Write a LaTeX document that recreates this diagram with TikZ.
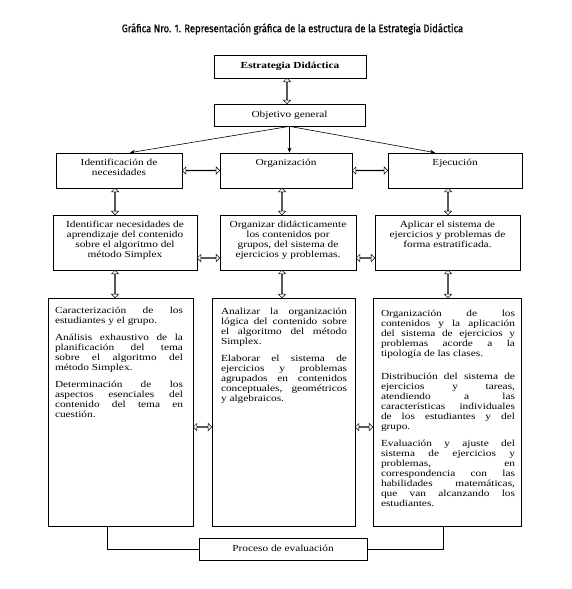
\documentclass[tikz,border=0pt]{standalone}
\usepackage{fontspec}
\setmainfont{Liberation Serif}[FakeStretch=1.22]
\newfontfamily\titlefont{Fira Sans}[FakeStretch=0.86,FakeBold=0.6]
\usetikzlibrary{shapes.arrows,calc,arrows.meta}
\newcommand{\boxtext}[4]{\parbox[c][#2][t]{#1}{\vspace*{#3}#4}}
\newcommand{\jtext}[5]{\parbox[c][#2][t]{#1}{\setlength{\parindent}{0pt}\setlength{\parskip}{#3}\vspace*{#4}#5}}
\newcommand{\dbl}[2]{\path let \p1=#1, \p2=#2, \n1={veclen(\x2-\x1,\y2-\y1)}, \n2={atan2(\y2-\y1,\x2-\x1)} in node[darr, minimum height=\n1, rotate=\n2] at ($(\p1)!0.5!(\p2)$) {};}
\begin{document}
\begin{tikzpicture}[x=1pt,y=-1pt,font=\fontsize{9.3}{10}\selectfont,
  box/.style={draw, line width=0.7pt, inner sep=0pt, rectangle},
  darr/.style={shape=double arrow, draw, fill=white, line width=0.5pt, inner sep=0pt, minimum width=7pt, double arrow head extend=2pt, double arrow head indent=0pt},
  arr/.style={-{Stealth[length=5pt,width=4pt]}, line width=0.6pt}]
\useasboundingbox (0,0) rectangle (571,589);
\node (title) at (292.5,29) {\titlefont\fontsize{11}{13}\selectfont Gráfica Nro. 1. Representación gráfica de la estructura de la Estrategia Didáctica};
\node[box, minimum width=152pt, minimum height=23pt] (est) at (290,66.5) {\raisebox{3pt}{\textbf{Estrategia Didáctica}}};
\node[box, minimum width=151pt, minimum height=22pt] (obj) at (289.5,115) {\raisebox{2pt}{Objetivo general}};
\node[box] (idn) at (119,170.5) {\boxtext{126pt}{35pt}{6pt}{\centering Identificación de\\ necesidades\par}};
\node[box] (org2) at (286,170.5) {\boxtext{132pt}{35pt}{6pt}{\centering Organización\par}};
\node[box] (eje2) at (455,170.5) {\boxtext{134pt}{35pt}{6pt}{\centering Ejecución\par}};
\node[box] (r3a) at (125,242.5) {\boxtext{144pt}{55pt}{6pt}{\centering Identificar necesidades de\\ aprendizaje del contenido\\ sobre el algoritmo del\\ método Simplex\par}};
\node[box] (r3b) at (288,242.5) {\boxtext{136pt}{55pt}{6pt}{\centering Organizar didácticamente\\ los contenidos por\\ grupos, del sistema de\\ ejercicios y problemas.\par}};
\node[box] (r3c) at (447.5,242.5) {\boxtext{145pt}{55pt}{6pt}{\centering Aplicar el sistema de\\ ejercicios y problemas de\\ forma estratificada.\par}};
\node[box] (r4a) at (120.5,412) {\hspace*{7pt}\jtext{128pt}{228pt}{7pt}{2pt}{Caracterización de los\linebreak estudiantes y el grupo.\par
Análisis exhaustivo de la\linebreak planificación del tema\linebreak sobre el algoritmo del\linebreak método Simplex.\par
Determinación de los\linebreak aspectos esenciales del\linebreak contenido del tema en\linebreak cuestión.\par}\hspace*{10pt}};
\node[box] (r4b) at (283.5,412) {\hspace*{9pt}\jtext{126pt}{228pt}{7pt}{3pt}{Analizar la organización\linebreak lógica del contenido sobre\linebreak el algoritmo del método\linebreak Simplex.\par
Elaborar el sistema de\linebreak ejercicios y problemas\linebreak agrupados en contenidos\linebreak conceptuales, geométricos\linebreak y algebraicos.\par}\hspace*{8pt}};
\node[box] (r4c) at (447,412) {\hspace*{8pt}\jtext{134pt}{228pt}{7pt}{5pt}{Organización de los\linebreak contenidos y la aplicación\linebreak del sistema de ejercicios y\linebreak problemas acorde a la\linebreak tipología de las clases.\par\vspace{6pt}
Distribución del sistema de\linebreak ejercicios y tareas,\linebreak atendiendo a las\linebreak características individuales\linebreak de los estudiantes y del\linebreak grupo.\par
Evaluación y ajuste del\linebreak sistema de ejercicios y\linebreak problemas, en\linebreak correspondencia con las\linebreak habilidades matemáticas,\linebreak que van alcanzando los\linebreak estudiantes.\par}\hspace*{6pt}};
\node[box, minimum width=168pt, minimum height=22pt] (proc) at (283,549) {\raisebox{2pt}{Proceso de evaluación}};
% arrows from objective
\draw[arr] (obj.south) -- ($(idn.north)+(11,0)$);
\draw[arr] (obj.south) -- (obj.south |- org2.north);
\draw[arr] (obj.south) -- ($(eje2.north)+(-20,0)$);
% double arrows
\dbl{($(est.south)+(-3,0)$)}{($(obj.north)+(-2.5,0)$)}
\dbl{(idn.east)}{(org2.west)}
\dbl{(org2.east)}{(eje2.west)}
\dbl{($(idn.south)+(-4,0)$)}{($(r3a.north)+(-10,0)$)}
\dbl{($(org2.south)+(-4,0)$)}{($(r3b.north)+(-6,0)$)}
\dbl{($(eje2.south)+(-7,0)$)}{($(r3c.north)+(0.5,0)$)}
\dbl{($(r3a.east)+(0,15.5)$)}{($(r3b.west)+(0,15.5)$)}
\dbl{($(r3b.east)+(0,15.5)$)}{($(r3c.west)+(0,15.5)$)}
\dbl{($(r3a.south)+(-10,0)$)}{($(r4a.north)+(-5.5,0)$)}
\dbl{($(r3b.south)+(-6,0)$)}{($(r4b.north)+(-1.5,0)$)}
\dbl{($(r3c.south)+(0.5,0)$)}{($(r4c.north)+(1,0)$)}
\dbl{($(r4a.east)+(0,15)$)}{($(r4b.west)+(0,15)$)}
\dbl{($(r4b.east)+(0,15)$)}{($(r4c.west)+(0,15)$)}
% evaluation connectors
\draw[line width=0.7pt] ($(r4a.south west)!0.407!(r4a.south east)$) |- (proc.west);
\draw[line width=0.7pt] ($(r4c.south west)!0.473!(r4c.south east)$) |- (proc.east);
\end{tikzpicture}
\end{document}
